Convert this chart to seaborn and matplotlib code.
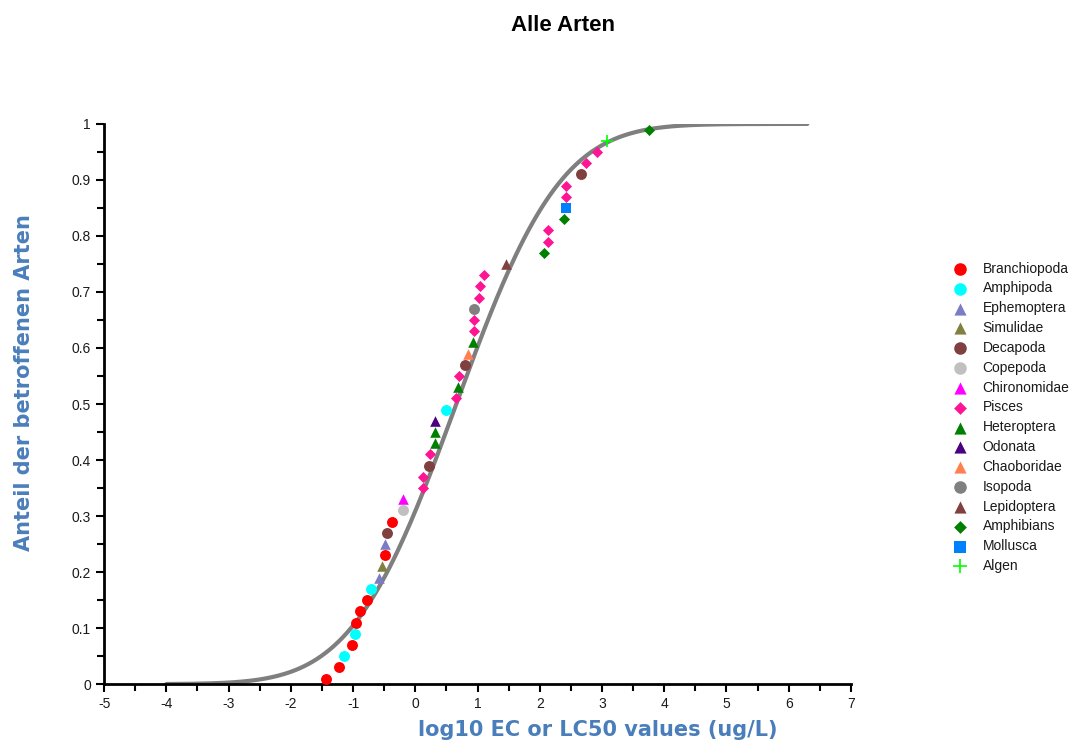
import math
import numpy as np
import pandas as pd
import seaborn as sns
import matplotlib.pyplot as plt
from matplotlib.ticker import MultipleLocator, FormatStrFormatter

# log10 EC/LC50 values, in rank order, with the group of each species
log_values = [-1.43, -1.23, -1.14, -1.02, -0.97, -0.96, -0.89, -0.78, -0.71, -0.59,
              -0.54, -0.49, -0.48, -0.46, -0.37, -0.19, -0.19, 0.13, 0.13, 0.22,
              0.24, 0.31, 0.31, 0.31, 0.49, 0.66, 0.68, 0.70, 0.80, 0.84,
              0.93, 0.95, 0.95, 0.95, 1.03, 1.04, 1.11, 1.46, 2.07, 2.14,
              2.14, 2.39, 2.42, 2.42, 2.42, 2.66, 2.74, 2.92, 3.08, 3.75]
groups = ["Branchiopoda", "Branchiopoda", "Amphipoda", "Branchiopoda", "Amphipoda",
          "Branchiopoda", "Branchiopoda", "Branchiopoda", "Amphipoda", "Ephemoptera",
          "Simulidae", "Branchiopoda", "Ephemoptera", "Decapoda", "Branchiopoda",
          "Copepoda", "Chironomidae", "Pisces", "Pisces", "Decapoda",
          "Pisces", "Heteroptera", "Heteroptera", "Odonata", "Amphipoda",
          "Pisces", "Heteroptera", "Pisces", "Decapoda", "Chaoboridae",
          "Heteroptera", "Pisces", "Pisces", "Isopoda", "Pisces",
          "Pisces", "Pisces", "Lepidoptera", "Amphibians", "Pisces",
          "Pisces", "Amphibians", "Mollusca", "Pisces", "Pisces",
          "Decapoda", "Pisces", "Pisces", "Algen", "Amphibians"]

legend_order = ["Branchiopoda", "Amphipoda", "Ephemoptera", "Simulidae", "Decapoda",
                "Copepoda", "Chironomidae", "Pisces", "Heteroptera", "Odonata",
                "Chaoboridae", "Isopoda", "Lepidoptera", "Amphibians", "Mollusca", "Algen"]

colors = {"Branchiopoda": "#ff0000", "Amphipoda": "#00ffff", "Ephemoptera": "#7b7bc6",
          "Simulidae": "#808040", "Decapoda": "#804040", "Copepoda": "#c0c0c0",
          "Chironomidae": "#ff00ff", "Pisces": "#ff1493", "Heteroptera": "#008000",
          "Odonata": "#4b0082", "Chaoboridae": "#ff7f50", "Isopoda": "#808080",
          "Lepidoptera": "#804040", "Amphibians": "#008000", "Mollusca": "#0080ff",
          "Algen": "#00ff00"}
markers = {"Branchiopoda": "o", "Amphipoda": "o", "Ephemoptera": "^", "Simulidae": "^",
           "Decapoda": "o", "Copepoda": "o", "Chironomidae": "^", "Pisces": "D",
           "Heteroptera": "^", "Odonata": "^", "Chaoboridae": "^", "Isopoda": "o",
           "Lepidoptera": "^", "Amphibians": "D", "Mollusca": "s", "Algen": "+"}
sizes = {"o": 62, "^": 58, "D": 32, "s": 60, "+": 80}

df = pd.DataFrame({"logc": log_values, "group": groups})
n = len(df)
df["frac"] = (np.arange(1, n + 1) - 0.5) / n

# normal fit of the log values -> SSD curve
mu = df["logc"].mean()
sd = df["logc"].std()
xs = np.linspace(-4.0, 6.3, 300)
curve = pd.DataFrame({"x": xs, "y": [0.5 * (1 + math.erf((v - mu) / (sd * math.sqrt(2)))) for v in xs]})

sns.set_style("white")
plt.rcParams['font.family'] = ['Liberation Sans', 'DejaVu Sans']
plt.rcParams['axes.unicode_minus'] = False

fig = plt.figure(figsize=(10.84, 7.42), dpi=100)
ax = fig.add_axes([0.096, 0.078, 0.689, 0.755])

sns.lineplot(x="x", y="y", data=curve, ax=ax, color="#7f7f7f", linewidth=3, zorder=1)

for g in legend_order:
    sub = df[df["group"] == g]
    m = markers[g]
    if m == "+":
        sns.scatterplot(x="logc", y="frac", data=sub, ax=ax, marker=m, color=colors[g],
                        s=sizes[m], linewidth=1.2, label=g, zorder=3)
    else:
        sns.scatterplot(x="logc", y="frac", data=sub, ax=ax, marker=m, color=colors[g],
                        s=sizes[m], linewidth=0, label=g, zorder=3)

ax.set_xlim(-5, 7)
ax.set_ylim(0, 1)
ax.xaxis.set_major_locator(MultipleLocator(1))
ax.xaxis.set_minor_locator(MultipleLocator(0.5))
ax.yaxis.set_major_locator(MultipleLocator(0.1))
ax.yaxis.set_minor_locator(MultipleLocator(0.05))
ax.yaxis.set_major_formatter(FormatStrFormatter("%g"))
ax.xaxis.set_major_formatter(FormatStrFormatter("%g"))
ax.tick_params(which="both", direction="out", color="black", width=1.5, labelsize=10, labelcolor="#1a1a1a")
ax.tick_params(which="major", length=6, left=True, bottom=True)
ax.tick_params(which="minor", length=5, left=True, bottom=True)
sns.despine(ax=ax)
for side in ["left", "bottom"]:
    ax.spines[side].set_color("black")
    ax.spines[side].set_linewidth(2)

ax.set_xlabel("")
ax.set_ylabel("")
fig.text(0.551, 0.016, "log10 EC or LC50 values (ug/L)", ha="center", va="center",
         fontsize=15, fontweight="bold", color="#4a7ebb", family="DejaVu Sans")
fig.text(0.022, 0.485, "Anteil der betroffenen Arten", ha="center", va="center", rotation=90,
         fontsize=15, fontweight="bold", color="#4a7ebb", family="DejaVu Sans")
fig.text(0.519, 0.965, "Alle Arten", ha="center", va="center", fontsize=16, fontweight="bold",
         color="black")

handles, labels = ax.get_legend_handles_labels()
ax.get_legend().remove()
leg = fig.legend(handles, labels, loc="upper left", bbox_to_anchor=(0.868, 0.655), frameon=False,
                 fontsize=10, labelspacing=0.42, handletextpad=0.6, borderaxespad=0, markerscale=1.15)
for t in leg.get_texts():
    t.set_color("#1a1a1a")

fig.savefig("out.png", dpi=100)
